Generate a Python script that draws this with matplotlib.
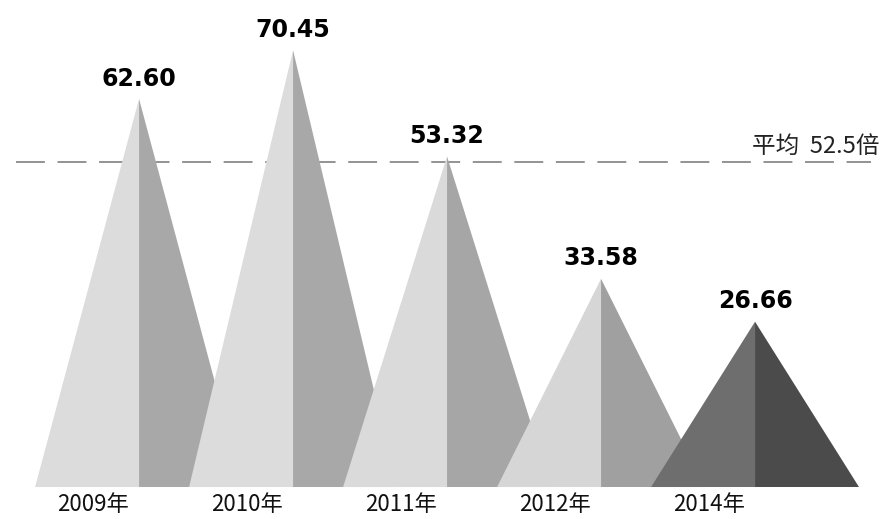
import matplotlib.pyplot as plt
from matplotlib.patches import Polygon

plt.rcParams['font.family'] = ['Noto Sans CJK SC', 'DejaVu Sans']

years = ['2009年', '2010年', '2011年', '2012年', '2014年']
values = [62.60, 70.45, 53.32, 33.58, 26.66]
average = 52.5

left_colors = ['#dcdcdc', '#dcdcdc', '#dadada', '#d6d6d6', '#6e6e6e']
right_colors = ['#a8a8a8', '#a8a8a8', '#a6a6a6', '#a0a0a0', '#4b4b4b']

fig = plt.figure(figsize=(8.83, 5.19), dpi=100)
ax = fig.add_axes([0, 0, 1, 1])

half = 0.675
for i, v in enumerate(values):
    ax.add_patch(Polygon([(i - half, 0), (i, v), (i, 0)], closed=True,
                         facecolor=left_colors[i], edgecolor='none', zorder=2 + i))
    ax.add_patch(Polygon([(i, 0), (i, v), (i + half, 0)], closed=True,
                         facecolor=right_colors[i], edgecolor='none', zorder=2 + i))
    ax.annotate(f'{v:.2f}', (i, v), xytext=(0, 6), textcoords='offset points',
                ha='center', va='bottom', fontsize=17, fontweight='bold',
                family=['DejaVu Sans'], zorder=20)
    ax.text(i - 0.3, -0.9, years[i], ha='center', va='top', fontsize=16, color='#111111')

ax.plot([-0.8, 4.75], [average, average], color='#8a8a8a', lw=1.3,
        dashes=(16, 7), zorder=1)
ax.text(4.81, average + 0.5, '平均  ' + f'{average}倍', ha='right', va='bottom',
        fontsize=17, color='#222222')

ax.set_xlim(-0.903, 4.831)
ax.set_ylim(-5.16, 78.55)
ax.axis('off')

fig.savefig('out.png', dpi=100)
